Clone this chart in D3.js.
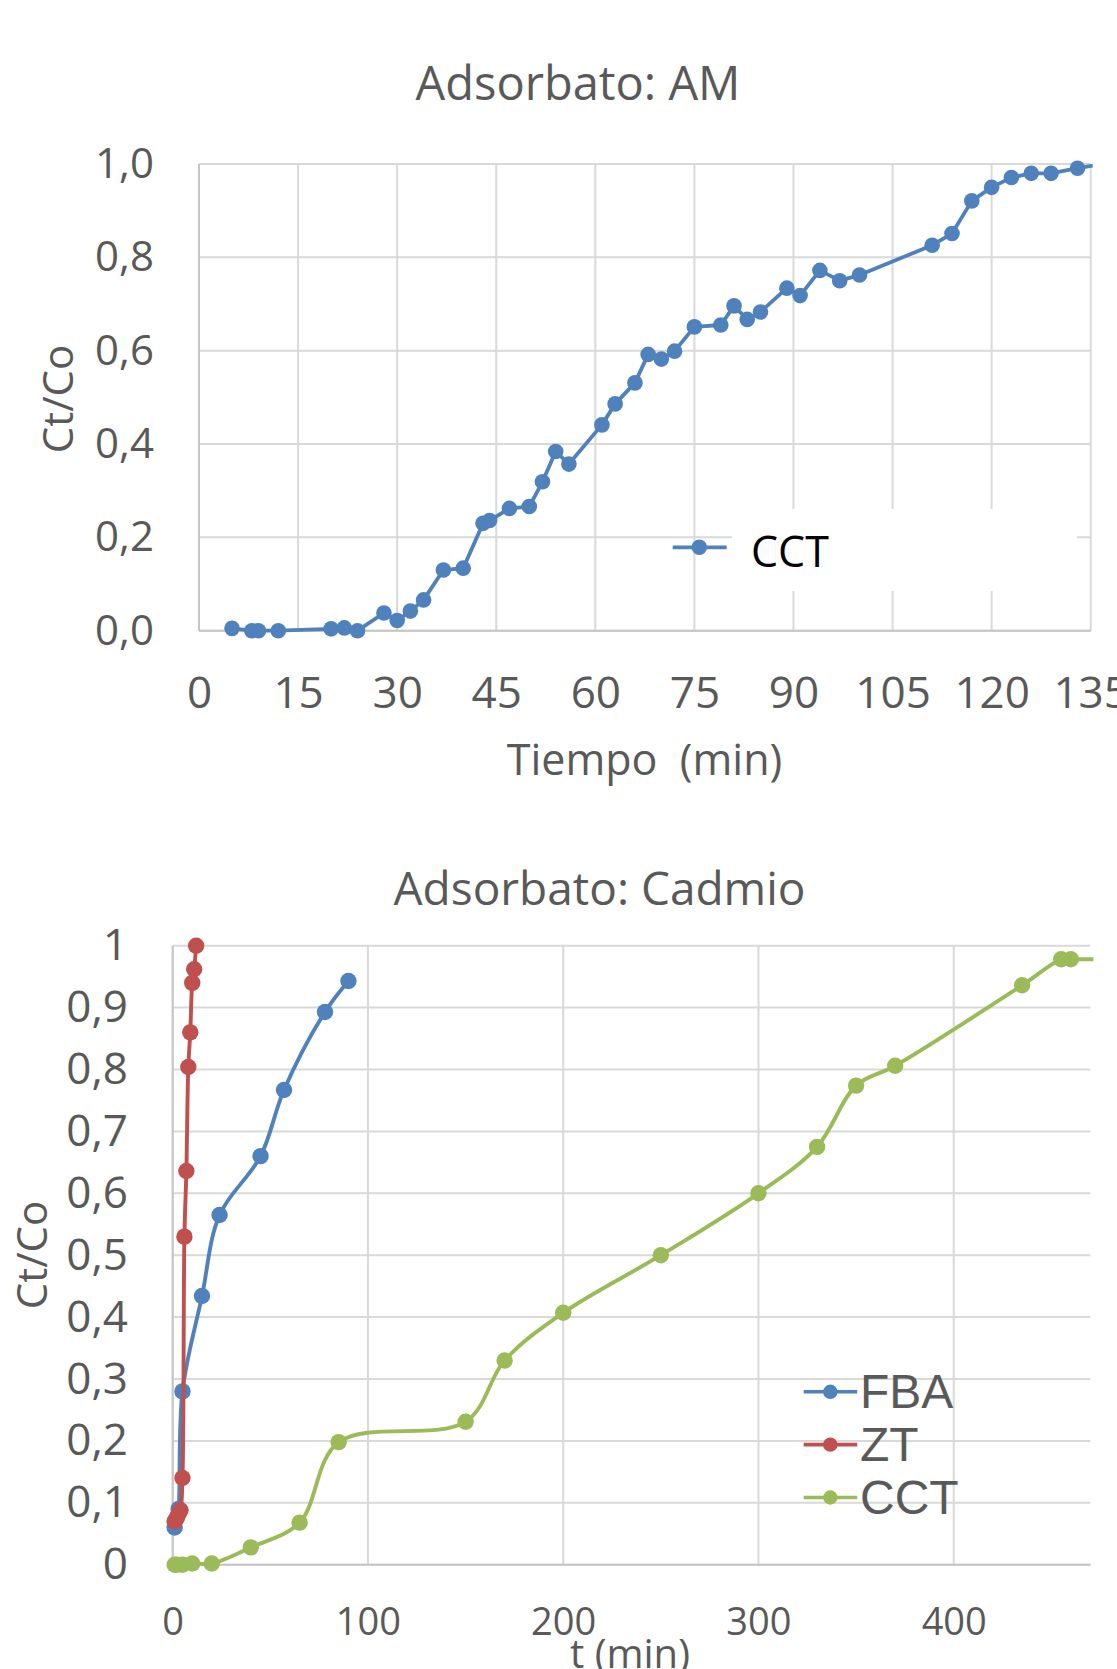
<!DOCTYPE html>
<html><head><meta charset="utf-8">
<script src="https://cdn.jsdelivr.net/npm/d3@7"></script>
<style>
body{margin:0;background:#fff;}
svg{display:block;}
</style></head><body>
<script>
// ---------- Data: Adsorbato AM ----------
const amTime = [5,8,9,12,20,22,24,28,30,32,34,37,40,43,44,47,50,52,54,56,61,63,66,68,70,72,75,79,81,83,85,89,91,94,97,100,111,114,117,120,123,126,129,133,136];
const amCt   = [0.005,0.000,0.000,0.000,0.004,0.006,0.000,0.038,0.022,0.042,0.066,0.130,0.134,0.230,0.236,0.262,0.266,0.319,0.384,0.357,0.441,0.486,0.531,0.592,0.582,0.599,0.651,0.655,0.696,0.667,0.683,0.734,0.718,0.772,0.750,0.762,0.826,0.851,0.921,0.950,0.971,0.980,0.980,0.991,0.998];
const amXTicks = [0,15,30,45,60,75,90,105,120,135];
const amYTicks = [0,0.2,0.4,0.6,0.8,1.0];
const amYLabels = ["0,0","0,2","0,4","0,6","0,8","1,0"];

// ---------- Data: Adsorbato Cadmio ----------
const fbaTime = [1,2,3,5,15,24,45,57,78,90];
const fbaCt   = [0.06,0.075,0.09,0.28,0.434,0.565,0.66,0.767,0.893,0.943];
const ztTime  = [1,2,3,4,5,6,7,8,9,10,11,12];
const ztCt    = [0.07,0.075,0.082,0.088,0.14,0.53,0.636,0.804,0.86,0.94,0.962,1.0];
const cctTime = [1,2,5,10,20,40,65,85,150,170,200,250,300,330,350,370,435,455,460,480];
const cctCt   = [0,0,0,0.002,0.002,0.028,0.068,0.198,0.231,0.33,0.407,0.5,0.6,0.675,0.774,0.806,0.936,0.978,0.978,0.978];
const cdXTicks = [0,100,200,300,400];
const cdYTicks = [0,0.1,0.2,0.3,0.4,0.5,0.6,0.7,0.8,0.9,1];
const cdYLabels = ["0","0,1","0,2","0,3","0,4","0,5","0,6","0,7","0,8","0,9","1"];
const cdSeries = ["FBA","ZT","CCT"];
const cdColors = ["#4F81BD","#C0504D","#9BBB59"];

const W = 1117, H = 1669;
const FONT = "'Open Sans', 'Noto Sans', sans-serif";
const TXT = "#595959";
const GRID = "#D9D9D9";
const AXIS = "#C6C6C6";

const svg = d3.select("body").append("svg").attr("width", W).attr("height", H)
  .style("background", "#fff");

const defs = svg.append("defs");

// ================= Chart 1 =================
(function(){
  const x = d3.scaleLinear().domain([0,135]).range([199, 1090.7]);
  const y = d3.scaleLinear().domain([0,1]).range([630.7, 164]);
  const g = svg.append("g");

  g.append("g").selectAll("line").data(amYTicks).join("line")
    .attr("x1", x(0)).attr("x2", x(135)).attr("y1", d=>y(d)).attr("y2", d=>y(d))
    .attr("stroke", GRID).attr("stroke-width", 2);
  g.append("g").selectAll("line").data(amXTicks).join("line")
    .attr("x1", d=>x(d)).attr("x2", d=>x(d)).attr("y1", y(0)).attr("y2", y(1))
    .attr("stroke", GRID).attr("stroke-width", 2);
  g.append("line").attr("x1", x(0)).attr("x2", x(135)).attr("y1", y(0)).attr("y2", y(0)).attr("stroke", AXIS).attr("stroke-width", 2);
  g.append("line").attr("x1", x(0)).attr("x2", x(0)).attr("y1", y(0)).attr("y2", y(1)).attr("stroke", AXIS).attr("stroke-width", 2);

  // legend white box (drawn over grid)
  g.append("rect").attr("x", 732).attr("y", 509).attr("width", 345).attr("height", 82).attr("fill", "#fff");

  const yAxis = d3.axisLeft(y).tickValues(amYTicks).tickSize(0).tickPadding(45)
    .tickFormat((d,i)=>amYLabels[i]);
  const ya = g.append("g").attr("transform", `translate(${x(0)},0)`).call(yAxis);
  ya.select(".domain").remove();
  ya.selectAll("text").attr("font-family", FONT).attr("font-size", 42).attr("fill", TXT);

  const xAxis = d3.axisBottom(x).tickValues(amXTicks).tickSize(0).tickPadding(46);
  const xa = g.append("g").attr("transform", `translate(0,${y(0)})`).call(xAxis);
  xa.select(".domain").remove();
  xa.selectAll("text").attr("font-family", FONT).attr("font-size", 44).attr("fill", TXT);

  defs.append("clipPath").attr("id","clip1").append("rect")
    .attr("x", 0).attr("y", 0).attr("width", x(135)+2).attr("height", H);

  const pts = amTime.map((t,i)=>({t, v: amCt[i]}));
  const line = d3.line().x(d=>x(d.t)).y(d=>y(d.v));
  g.append("path").datum(pts).attr("d", line).attr("fill","none")
    .attr("stroke", "#4F81BD").attr("stroke-width", 3.8).attr("stroke-linejoin","round")
    .attr("clip-path","url(#clip1)");
  g.append("g").selectAll("circle").data(pts.filter(d=>d.t<=135)).join("circle")
    .attr("cx", d=>x(d.t)).attr("cy", d=>y(d.v)).attr("r", 7.8).attr("fill", "#4F81BD");

  // legend
  g.append("line").attr("x1", 672.7).attr("x2", 726.7).attr("y1", 547.3).attr("y2", 547.3)
    .attr("stroke", "#4F81BD").attr("stroke-width", 3.8);
  g.append("circle").attr("cx", 699.3).attr("cy", 547.3).attr("r", 7.8).attr("fill", "#4F81BD");
  g.append("text").attr("x", 751).attr("y", 566.7).text("CCT")
    .attr("font-family", FONT).attr("font-size", 43).attr("fill", "#000");

  // titles
  g.append("text").attr("x", 578).attr("y", 100).attr("text-anchor","middle")
    .attr("font-family", FONT).attr("font-size", 47).attr("fill", TXT).text("Adsorbato: AM");
  g.append("text").attr("x", 644.5).attr("y", 775).attr("text-anchor","middle")
    .attr("font-family", FONT).attr("font-size", 43).attr("fill", TXT)
    .attr("xml:space","preserve").style("white-space","pre").text("Tiempo  (min)");
  g.append("text").attr("transform", "translate(73.3,399) rotate(-90)").attr("text-anchor","middle")
    .attr("font-family", FONT).attr("font-size", 42).attr("fill", TXT).text("Ct/Co");
})();

// ================= Chart 2 =================
(function(){
  const x = d3.scaleLinear().domain([0,470]).range([172.7, 1090.4]);
  const y = d3.scaleLinear().domain([0,1]).range([1564.7, 945.7]);
  const g = svg.append("g");

  g.append("g").selectAll("line").data(cdYTicks).join("line")
    .attr("x1", x(0)).attr("x2", x(470)).attr("y1", d=>y(d)).attr("y2", d=>y(d))
    .attr("stroke", GRID).attr("stroke-width", 2);
  g.append("g").selectAll("line").data(cdXTicks).join("line")
    .attr("x1", d=>x(d)).attr("x2", d=>x(d)).attr("y1", y(0)).attr("y2", y(1))
    .attr("stroke", GRID).attr("stroke-width", 2);
  g.append("line").attr("x1", x(0)).attr("x2", x(470)).attr("y1", y(0)).attr("y2", y(0)).attr("stroke", AXIS).attr("stroke-width", 2);
  g.append("line").attr("x1", x(0)).attr("x2", x(0)).attr("y1", y(0)).attr("y2", y(1)).attr("stroke", AXIS).attr("stroke-width", 2);

  const yAxis = d3.axisLeft(y).tickValues(cdYTicks).tickSize(0).tickPadding(44.7)
    .tickFormat((d,i)=>cdYLabels[i]);
  const ya = g.append("g").attr("transform", `translate(${x(0)},0)`).call(yAxis);
  ya.select(".domain").remove();
  ya.selectAll("text").attr("font-family", FONT).attr("font-size", 44).attr("fill", TXT);

  const xAxis = d3.axisBottom(x).tickValues(cdXTicks).tickSize(0).tickPadding(43.6).tickFormat(d3.format("d"));
  const xa = g.append("g").attr("transform", `translate(0,${y(0)})`).call(xAxis);
  xa.select(".domain").remove();
  xa.selectAll("text").attr("font-family", FONT).attr("font-size", 38).attr("fill", TXT);

  defs.append("clipPath").attr("id","clip2").append("rect")
    .attr("x", 0).attr("y", 0).attr("width", x(470)+3).attr("height", H);

  const series = [
    fbaTime.map((t,i)=>({t, v: fbaCt[i]})),
    ztTime.map((t,i)=>({t, v: ztCt[i]})),
    cctTime.map((t,i)=>({t, v: cctCt[i]}))
  ];
  const line = d3.line().x(d=>x(d.t)).y(d=>y(d.v)).curve(d3.curveCatmullRom.alpha(0.5));
  series.forEach((pts, k)=>{
    g.append("path").datum(pts).attr("d", line).attr("fill","none")
      .attr("stroke", cdColors[k]).attr("stroke-width", 3.9).attr("stroke-linejoin","round")
      .attr("clip-path","url(#clip2)");
    g.append("g").selectAll("circle").data(pts.filter(d=>d.t<=470)).join("circle")
      .attr("cx", d=>x(d.t)).attr("cy", d=>y(d.v)).attr("r", 8.2).attr("fill", cdColors[k]);
  });

  // legend
  const lg = g.append("g");
  const rows = lg.selectAll("g").data(cdSeries).join("g")
    .attr("transform", (d,i)=>`translate(0,${1391.8 + i*52.85})`);
  rows.append("line").attr("x1", 803.7).attr("x2", 857.2).attr("y1", 0).attr("y2", 0)
    .attr("stroke", (d,i)=>cdColors[i]).attr("stroke-width", 3.6);
  rows.append("circle").attr("cx", 830.3).attr("cy", 0).attr("r", 7.2).attr("fill", (d,i)=>cdColors[i]);
  rows.append("text").attr("x", 860).attr("y", 16.6).text(d=>d)
    .attr("font-family", "'Liberation Sans', Arial, sans-serif").attr("font-size", 48).attr("fill", TXT);

  // titles
  g.append("text").attr("x", 599.5).attr("y", 905).attr("text-anchor","middle")
    .attr("font-family", FONT).attr("font-size", 46).attr("fill", TXT).text("Adsorbato: Cadmio");
  g.append("text").attr("x", 630).attr("y", 1668).attr("text-anchor","middle")
    .attr("font-family", FONT).attr("font-size", 40).attr("fill", TXT).text("t (min)");
  g.append("text").attr("transform", "translate(46.7,1255) rotate(-90)").attr("text-anchor","middle")
    .attr("font-family", FONT).attr("font-size", 42).attr("fill", TXT).text("Ct/Co");
})();
</script>
</body></html>
